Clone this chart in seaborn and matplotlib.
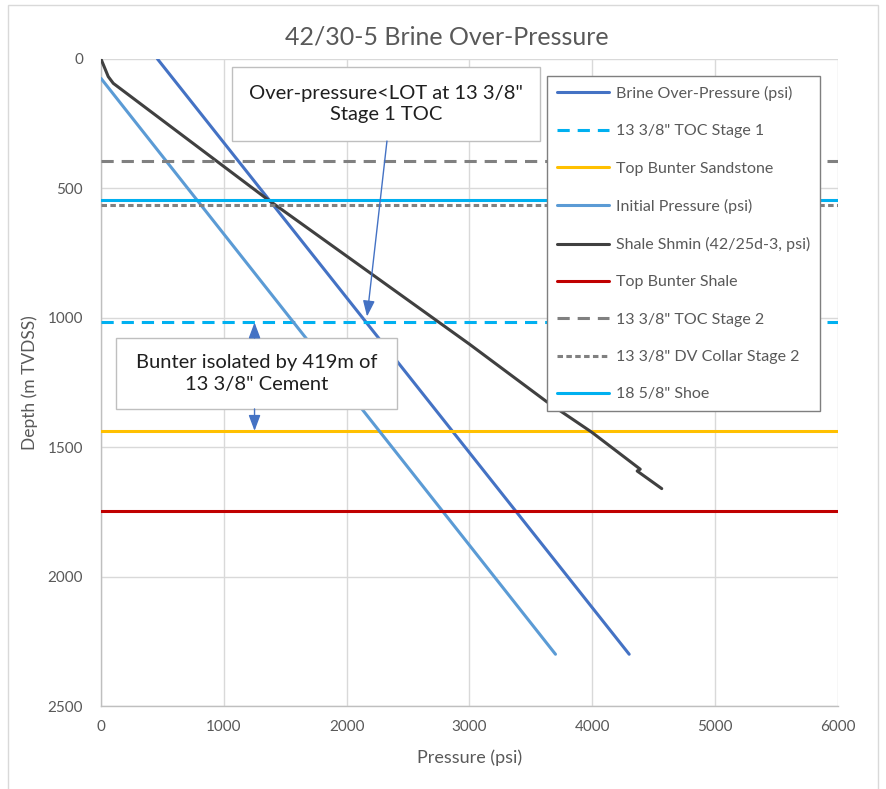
import matplotlib
matplotlib.use("Agg")
import matplotlib.pyplot as plt
import seaborn as sns
from matplotlib.patches import Rectangle

# ---- data -------------------------------------------------------------
# pressure (psi) vs depth (m TVDSS) profiles
brine_psi = [460, 4300]
brine_depth = [0, 2300]

initial_psi = [0, 3700]
initial_depth = [75, 2300]

shale_psi = [0, 59, 100, 1349, 3000, 3628, 3995, 4390, 4365, 4565]
shale_depth = [0, 68, 94, 540, 1102, 1324, 1442, 1585, 1592, 1660]

# depth markers (m TVDSS)
toc_stage1 = 1018
top_bunter_sandstone = 1437
top_bunter_shale = 1747
toc_stage2 = 394
dv_collar_stage2 = 564
shoe_18_5_8 = 545

marker_span = [0, 6000]

x_ticks = [0, 1000, 2000, 3000, 4000, 5000, 6000]
y_ticks = [0, 500, 1000, 1500, 2000, 2500]

title = "42/30-5 Brine Over-Pressure"
note_lot = "Over-pressure<LOT at 13 3/8\"\nStage 1 TOC"
note_cement = "Bunter isolated by 419m of\n13 3/8\" Cement"

# ---- figure -----------------------------------------------------------
sns.set_theme(style="white")
plt.rcParams["font.family"] = ["Lato", "DejaVu Sans"]

W, H = 886, 789
fig = plt.figure(figsize=(W / 100, H / 100), dpi=100)
fig.patch.set_facecolor("white")

# outer chart frame
fig.add_artist(Rectangle((8 / W, -0.02), 870 / W, 1.02 - 5 / H,
                         transform=fig.transFigure, fill=False,
                         edgecolor="#D9D9D9", lw=1))

ax = fig.add_axes([101 / W, 1 - 706 / H, 737 / W, 647 / H])

LW = 2.2
series = [
    ("Brine Over-Pressure (psi)", brine_psi, brine_depth, "#4472C4", "-"),
    ("13 3/8\" TOC Stage 1", marker_span, [toc_stage1] * 2, "#00B0F0", (0, (4, 2.6))),
    ("Top Bunter Sandstone", marker_span, [top_bunter_sandstone] * 2, "#FFC000", "-"),
    ("Initial Pressure (psi)", initial_psi, initial_depth, "#5B9BD5", "-"),
    ("Shale Shmin (42/25d-3, psi)", shale_psi, shale_depth, "#404040", "-"),
    ("Top Bunter Shale", marker_span, [top_bunter_shale] * 2, "#C00000", "-"),
    ("13 3/8\" TOC Stage 2", marker_span, [toc_stage2] * 2, "#808080", (0, (4, 2.6))),
    ("13 3/8\" DV Collar Stage 2", marker_span, [dv_collar_stage2] * 2, "#808080", (0, (1.8, 1.1))),
    ("18 5/8\" Shoe", marker_span, [shoe_18_5_8] * 2, "#00B0F0", "-"),
]

for label, xs, ys, color, ls in series:
    sns.lineplot(x=xs, y=ys, sort=False, estimator=None, color=color,
                 lw=LW, linestyle=ls, label=label, ax=ax, zorder=3)

ax.set_xlim(0, 6000)
ax.set_ylim(2500, 0)
ax.set_xticks(x_ticks)
ax.set_yticks(y_ticks)
ax.grid(True, color="#D9D9D9", lw=1)
ax.set_axisbelow(True)
for side in ["top", "right"]:
    ax.spines[side].set_visible(False)
for side in ["left", "bottom"]:
    ax.spines[side].set_color("#BFBFBF")
    ax.spines[side].set_linewidth(1)
ax.tick_params(axis="both", length=0, labelsize=11, labelcolor="#595959")
ax.tick_params(axis="y", pad=13)
ax.tick_params(axis="x", pad=10)
ax.set_xlabel("Pressure (psi)", fontsize=13, color="#595959", labelpad=11)
ax.set_ylabel("Depth (m TVDSS)", fontsize=12.5, color="#595959", labelpad=7)

fig.text(447 / W, 1 - 37 / H, title, ha="center", va="center",
         fontsize=18, color="#595959")

# legend
leg = ax.legend(loc="upper left", bbox_to_anchor=(547 / W, 1 - 76 / H),
                bbox_transform=fig.transFigure, frameon=True, fancybox=False,
                framealpha=1, fontsize=11.5, handlelength=3.25,
                handletextpad=0.45, labelspacing=1.45, borderpad=0.62,
                borderaxespad=0)
leg.get_frame().set_edgecolor("#7F7F7F")
leg.get_frame().set_facecolor("white")
leg.get_frame().set_linewidth(1)
for t in leg.get_texts():
    t.set_color("#595959")
leg.set_zorder(6)

# annotation boxes
box_style = dict(facecolor="white", edgecolor="#BFBFBF", lw=1, zorder=5)
ax.add_patch(Rectangle((1066, 31), 3574 - 1066, 317 - 31, **box_style))
ax.text((1066 + 3574) / 2, (31 + 317) / 2, note_lot, ha="center", va="center",
        fontsize=14.5, color="#1F1F1F", linespacing=1.3, zorder=6)

ax.add_patch(Rectangle((122, 1078), 2410 - 122, 1352 - 1078, **box_style))
ax.text((122 + 2410) / 2, (1078 + 1352) / 2, note_cement, ha="center",
        va="center", fontsize=14.5, color="#1F1F1F", linespacing=1.3, zorder=6)

arrow = dict(arrowstyle="-|>,head_length=0.8,head_width=0.3", color="#4472C4",
             lw=1, shrinkA=0, shrinkB=0)
ax.annotate("", xy=(2166, 995), xytext=(2328, 317), arrowprops=arrow, zorder=6)
ax.annotate("", xy=(1250, toc_stage1), xytext=(1250, 1078), arrowprops=arrow, zorder=6)
ax.annotate("", xy=(1250, top_bunter_sandstone), xytext=(1250, 1352), arrowprops=arrow, zorder=6)

fig.savefig("out.png", dpi=100)
